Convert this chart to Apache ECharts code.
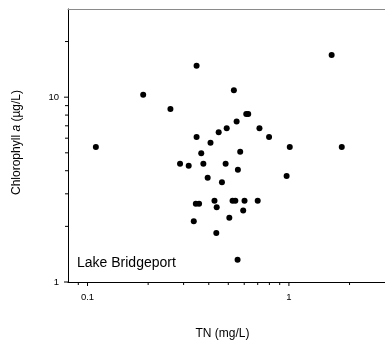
<!DOCTYPE html>
<html>
<head>
<meta charset="utf-8">
<style>
  html, body { margin: 0; padding: 0; background: #fff; }
  #chart { width: 385px; height: 350px; }
</style>
<script src="https://cdn.jsdelivr.net/npm/echarts@6/dist/echarts.min.js"></script>
</head>
<body>
<div id="chart"></div>
<script>
// Total nitrogen (mg/L) and chlorophyll a (µg/L) for each sample
const tnValues = [
  0.11, 0.189, 0.258, 0.348, 0.348, 0.288, 0.318, 0.367, 0.376, 0.408,
  0.395, 0.448, 0.491, 0.533, 0.55, 0.614, 0.628, 0.714, 0.797, 1.01,
  1.83, 1.63, 0.974, 0.573, 0.485, 0.558, 0.465, 0.345, 0.358, 0.427,
  0.438, 0.525, 0.542, 0.602, 0.70, 0.593, 0.506, 0.337, 0.436, 0.556
];
const chlValues = [
  5.37, 10.3, 8.62, 14.8, 6.08, 4.37, 4.26, 4.97, 4.37, 5.67,
  3.66, 6.47, 6.78, 10.9, 7.39, 8.1, 8.1, 6.78, 6.08, 5.37,
  5.37, 16.9, 3.75, 5.07, 4.37, 4.05, 3.46, 2.65, 2.65, 2.75,
  2.54, 2.75, 2.75, 2.75, 2.75, 2.44, 2.23, 2.13, 1.84, 1.32
];

// Axis ranges and tick positions (log scales)
const xRange = [0.08, 3];
const yRange = [1, 30];
const xMajorTicks = [0.1, 1];
const xMinorTicks = [0.09, 0.2, 0.3, 0.4, 0.5, 0.6, 0.7, 0.8, 0.9, 2];
const yMajorTicks = [1, 10];
const yMinorTicks = [2, 3, 4, 5, 6, 7, 8, 9, 20];

const FONT = '"Liberation Sans", Arial, sans-serif';
const points = tnValues.map((v, i) => [v, chlValues[i]]);

// Tick marks drawn outward from the axis lines
function tickSeries(values, dir, len) {
  const data = values.map(v => dir === 'x' ? [v, yRange[0]] : [xRange[0], v]);
  return {
    type: 'custom',
    silent: true,
    clip: false,
    z: 5,
    data: data,
    renderItem: function (params, api) {
      const p = api.coord([api.value(0), api.value(1)]);
      const shape = dir === 'x'
        ? { x1: p[0], y1: p[1], x2: p[0], y2: p[1] + len }
        : { x1: p[0], y1: p[1], x2: p[0] - len, y2: p[1] };
      return { type: 'line', shape: shape, style: { stroke: '#000', lineWidth: 1 } };
    }
  };
}

const chart = echarts.init(document.getElementById('chart'), null, { renderer: 'canvas' });
chart.setOption({
  animation: false,
  backgroundColor: '#fff',
  grid: { left: 68, top: 9, width: 319, height: 273, show: false },
  xAxis: [{
    type: 'log', logBase: 10, min: xRange[0], max: xRange[1],
    name: 'TN (mg/L)', nameLocation: 'middle', nameGap: 46,
    nameTextStyle: { fontSize: 12, color: '#000', fontFamily: FONT, padding: [0, 8, 0, 0] },
    axisLine: { show: true, lineStyle: { color: '#000', width: 1 } },
    axisTick: { show: false },
    splitLine: { show: false },
    axisLabel: {
      showMinLabel: false, showMaxLabel: false, margin: 10,
      fontSize: 9.5, color: '#000', fontFamily: FONT
    }
  }, {
    // top frame line
    type: 'log', logBase: 10, min: xRange[0], max: xRange[1], position: 'top',
    axisLine: { show: true, lineStyle: { color: '#8a8a8a', width: 1.2 } },
    axisTick: { show: false }, axisLabel: { show: false }, splitLine: { show: false }
  }],
  yAxis: {
    type: 'log', logBase: 10, min: yRange[0], max: yRange[1], interval: 1,
    name: 'Chlorophyll {i|a} (µg/L)', nameLocation: 'middle', nameGap: 45, nameRotate: 90,
    nameTextStyle: {
      fontSize: 12, color: '#000', fontFamily: FONT, padding: [0, 0, 0, 6],
      rich: { i: { fontStyle: 'italic', fontSize: 12, color: '#000', fontFamily: FONT } }
    },
    axisLine: { show: true, lineStyle: { color: '#000', width: 1 } },
    axisTick: { show: false },
    splitLine: { show: false },
    axisLabel: {
      showMaxLabel: false, margin: 9,
      fontSize: 9.5, color: '#000', fontFamily: FONT
    }
  },
  graphic: [{
    type: 'text', left: 77, top: 256,
    style: { text: 'Lake Bridgeport', fontSize: 14, fill: '#000', fontFamily: FONT }
  }],
  series: [
    {
      type: 'scatter',
      data: points,
      symbol: 'circle',
      symbolSize: 6,
      itemStyle: { color: '#000', opacity: 1 },
      z: 3
    },
    tickSeries(xMajorTicks, 'x', 4),
    tickSeries(xMinorTicks, 'x', 3),
    tickSeries(yMajorTicks, 'y', 4),
    tickSeries(yMinorTicks, 'y', 3)
  ]
});
</script>
</body>
</html>
